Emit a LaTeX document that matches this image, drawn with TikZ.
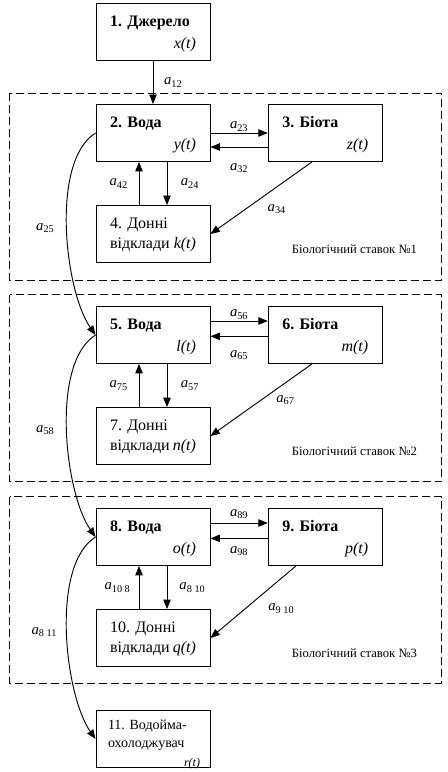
\documentclass[tikz,border=0pt]{standalone}
\usepackage{fontspec}
\setmainfont{Liberation Serif}
\usetikzlibrary{arrows.meta}
\usetikzlibrary{calc}
\usetikzlibrary{positioning}

\newcommand{\ak}[1]{\textit{a}\textsubscript{#1}}
\newcommand{\fx}[1]{\mbox{}\hfill\textit{#1}}

\tikzset{
  box/.style={draw, minimum height=42.75pt, text width=64.5pt, inner xsep=10.5pt, inner ysep=0pt,
    text height=17.5pt, text depth=25.25pt, align=flush left, font=\fontsize{12}{14.5}\selectfont},
  coef/.style={font=\fontsize{11}{13}\selectfont, inner sep=1pt},
  pond/.style={draw, dash pattern=on 6pt off 3pt},
  pondname/.style={font=\fontsize{9.5}{11}\selectfont, anchor=base east, inner sep=0pt},
  flow/.style={out=212, in=125, looseness=0.68},
}

\begin{document}
\begin{tikzpicture}[>={Triangle[length=7pt,width=5.5pt]}, node distance=32.3pt and 43pt, line width=0.7pt]
  \useasboundingbox (0,0) rectangle (336pt,-579pt);
  \node[box] (b1) at (114.75pt,-24pt) {\textbf{1. Джерело}\\[2pt]\fx{x(t)}};
  % pond 1
  \node[box, below=of b1] (b2) {\textbf{2. Вода}\\[2pt]\fx{y(t)}};
  \node[box, right=of b2] (b3) {\textbf{3. Біота}\\[2pt]\fx{z(t)}};
  \node[box, below=of b2] (b4) {4. Донні\\відклади\fx{k(t)}};
  % pond 2
  \node[box, below=of b4] (b5) {\textbf{5. Вода}\\[2pt]\fx{l(t)}};
  \node[box, right=of b5] (b6) {\textbf{6. Біота}\\[2pt]\fx{m(t)}};
  \node[box, below=of b5] (b7) {7. Донні\\відклади\fx{n(t)}};
  % pond 3
  \node[box, below=of b7] (b8) {\textbf{8. Вода}\\[2pt]\fx{o(t)}};
  \node[box, right=of b8] (b9) {\textbf{9. Біота}\\[2pt]\fx{p(t)}};
  \node[box, below=of b8] (b10) {10. Донні\\відклади\fx{q(t)}};
  % cooling pond
  \node[box, below=of b10, text width=70.5pt, inner xsep=7.5pt, text height=14.25pt, text depth=28.5pt] (b11)
    {\fontsize{10.5}{13.5}\selectfont\hspace*{1.5pt}11. Водойма-\\\hspace*{1.5pt}охолоджувач\\{\fontsize{9}{9}\selectfont\fx{r(t)}}};

  % pond frames
  \draw[pond] ($(b2.north west)+(-64.5pt,8pt)$) rectangle ($(b3.east |- b4.south)+(44.25pt,-13pt)$);
  \draw[pond] ($(b5.north west)+(-64.5pt,8.5pt)$) rectangle ($(b6.east |- b7.south)+(44.25pt,-12.4pt)$);
  \draw[pond] ($(b8.north west)+(-64.5pt,8.5pt)$) rectangle ($(b9.east |- b10.south)+(44.25pt,-12pt)$);
  \node[pondname] (n1) at ($(b3.east |- b4.south)+(26pt,6.75pt)$) {Біологічний ставок №1};
  \node[pondname] (n2) at ($(b6.east |- b7.south)+(26pt,6.75pt)$) {Біологічний ставок №2};
  \node[pondname] (n3) at ($(b9.east |- b10.south)+(26pt,6.75pt)$) {Біологічний ставок №3};

  \draw[->] (b1) -- node[coef, right=7pt] (k12) {\ak{12}} (b2);
  % pond 1
  \draw[->] (b2.east) -- node[coef, above] (k23) {\ak{23}} (b3.west);
  \draw[->] ([yshift=-10.5pt]b3.west) -- node[coef, below=11pt] (k32) {\ak{32}} ([yshift=-10.5pt]b2.east);
  \draw[->] ([xshift=-10.5pt]b4.north) -- node[coef, left=7pt] (k42) {\ak{42}} ([xshift=-10.5pt]b2.south);
  \draw[->] ([xshift=10.5pt]b2.south) -- node[coef, right=9pt] (k24) {\ak{24}} ([xshift=10.5pt]b4.north);
  \draw[->] ([xshift=-10pt]b3.south) -- node[coef, below right=5pt] (k34) {\ak{34}} (b4.east);
  \draw[->] (b2.west) to[flow] node[coef, left=8pt] (k25) {\ak{25}} (b5.west);
  % pond 2
  \draw[->] ([yshift=10.5pt]b5.east) -- node[coef, above] (k56) {\ak{56}} ([yshift=10.5pt]b6.west);
  \draw[->] ([yshift=-1pt]b6.west) -- node[coef, below=9pt] (k65) {\ak{65}} ([yshift=-1pt]b5.east);
  \draw[->] ([xshift=-10.5pt]b7.north) -- node[coef, left=7pt] (k75) {\ak{75}} ([xshift=-10.5pt]b5.south);
  \draw[->] ([xshift=10.5pt]b5.south) -- node[coef, right=9pt] (k57) {\ak{57}} ([xshift=10.5pt]b7.north);
  \draw[->] ([xshift=-10pt]b6.south) -- node[coef, right=10pt] (k67) {\ak{67}} (b7.east);
  \draw[->] (b5.west) to[flow] node[coef, left=8pt] (k58) {\ak{58}} (b8.west);
  % pond 3
  \draw[->] ([yshift=10.5pt]b8.east) -- node[coef, above=2pt] (k89) {\ak{89}} ([yshift=10.5pt]b9.west);
  \draw[->] ([yshift=-1pt]b9.west) -- node[coef, below=5pt] (k98) {\ak{98}} ([yshift=-1pt]b8.east);
  \draw[->] ([xshift=-10.5pt]b10.north) -- node[coef, left=5pt] (k108) {\ak{10 8}} ([xshift=-10.5pt]b8.south);
  \draw[->] ([xshift=10.5pt]b8.south) -- node[coef, right=8pt] (k810) {\ak{8 10}} ([xshift=10.5pt]b10.north);
  \draw[->] ([xshift=-22pt]b9.south) -- node[coef, right=10pt, yshift=-5pt] (k910) {\ak{9 10}} (b10.east);
  \draw[->] (b8.west) to[flow] node[coef, left=6pt] (k811) {\ak{8 11}} (b11.west);
\end{tikzpicture}
\end{document}
